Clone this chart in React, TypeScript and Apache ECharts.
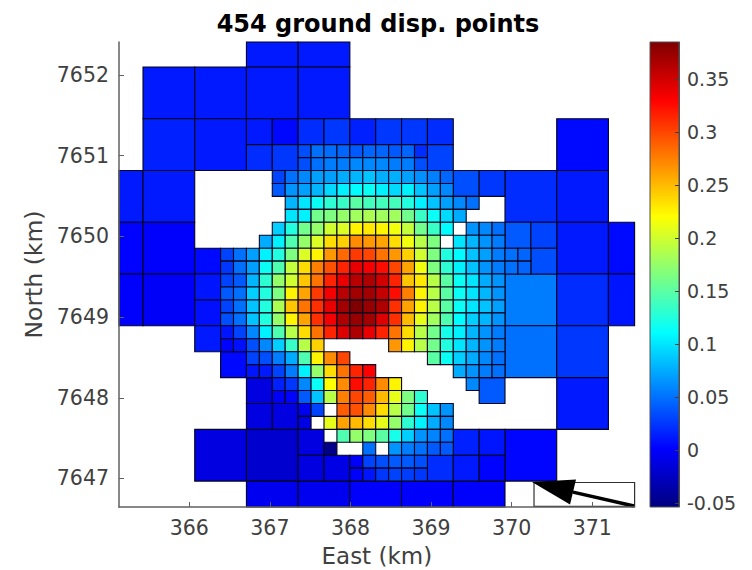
import React, { useEffect, useRef } from "react";
import * as echarts from "echarts";

const titleText = "454 ground disp. points";
const xName = "East (km)";
const yName = "North (km)";
const xTicks = [366, 367, 368, 369, 370, 371];
const yTicks = [7647, 7648, 7649, 7650, 7651, 7652];
const colorTicks = [-0.05, 0, 0.05, 0.1, 0.15, 0.2, 0.25, 0.3, 0.35];
const xRange = [365.128, 371.525];
const yRange = [7646.646, 7652.41];
const colorRange = [-0.0538, 0.385];
const jet = ["#00007f", "#0000ff", "#007fff", "#00ffff", "#7fff7f", "#ffff00", "#ff7f00", "#ff0000", "#7f0000"];

// patch lattice of the quadtree, km
const originEast = 365.4258;
const originNorth = 7652.0999;
const patchStep = 0.1604;

// [col, row, span, displacement]
const coarsePatches: number[][] = [
  [8, -4, 4, 0.012], [12, -4, 4, 0.012],
  [0, 0, 4, 0.012], [4, 0, 4, 0.012], [8, 0, 4, 0.012], [12, 0, 4, 0.012],
  [0, 4, 4, 0.015], [4, 4, 4, 0.012], [32, 4, 4, 0.005],
  [-4, 8, 4, 0.012], [0, 8, 4, 0.012], [28, 8, 4, 0.02], [32, 8, 4, 0.012],
  [-4, 12, 4, 0.002], [0, 12, 4, 0.0], [32, 12, 4, 0.012], [36, 12, 4, 0.005],
  [-4, 16, 4, 0.0], [0, 16, 4, -0.002], [28, 16, 4, 0.055], [32, 16, 4, 0.02], [36, 16, 4, 0.01],
  [28, 20, 4, 0.05], [32, 20, 4, 0.025], [32, 24, 4, 0.012],
  [4, 28, 4, -0.012], [8, 28, 4, -0.02], [28, 28, 4, 0.003],
  [8, 32, 4, -0.005], [12, 32, 4, -0.005], [16, 32, 4, 0.0], [20, 32, 4, 0.0], [24, 32, 4, 0.0],
];
const mediumPatches: number[][] = [
  [8, 4, 2, 0.012], [10, 4, 2, 0.004], [12, 4, 2, 0.02], [14, 4, 2, 0.025], [16, 4, 2, 0.015],
  [18, 4, 2, 0.025], [20, 4, 2, 0.025], [22, 4, 2, 0.02],
  [8, 6, 2, 0.02], [10, 6, 2, 0.025], [22, 6, 2, 0.03],
  [24, 8, 2, 0.035], [26, 8, 2, 0.025],
  [28, 12, 2, 0.04], [30, 12, 2, 0.03], [4, 14, 2, 0.005], [30, 14, 2, 0.035],
  [4, 16, 2, 0.01], [4, 18, 2, 0.008], [4, 20, 2, 0.012], [6, 22, 2, 0.005],
  [8, 24, 2, -0.012], [26, 24, 2, 0.04], [8, 26, 2, -0.012], [10, 26, 2, -0.012],
  [12, 28, 2, -0.012], [24, 28, 2, 0.015], [26, 28, 2, 0.01],
  [12, 30, 2, -0.012], [14, 30, 2, -0.01], [22, 30, 2, 0.02], [24, 30, 2, 0.012], [26, 30, 2, 0.002],
];
// [row, first col, values] ; null = patch removed
const fineRows: [number, number, (number | null)[]][] = [
  [6, 12, [0.035, 0.05, 0.048, 0.045, 0.04, 0.045, 0.045, 0.04, 0.045, 0.02]],
  [7, 12, [0.035, 0.05, 0.055, 0.055, 0.06, 0.06, 0.06, 0.055, 0.055, 0.035]],
  [8, 10, [0.03, 0.05, 0.06, 0.07, 0.07, 0.075, 0.08, 0.085, 0.077, 0.077, 0.07, 0.063, 0.056, 0.045]],
  [9, 10, [0.04, 0.065, 0.07, 0.08, 0.095, 0.105, 0.11, 0.115, 0.105, 0.095, 0.105, 0.085, 0.07, 0.06]],
  [10, 11, [0.08, 0.1, 0.115, 0.13, 0.135, 0.15, 0.14, 0.14, 0.14, 0.125, 0.105, 0.085, 0.07, 0.06, 0.05]],
  [11, 11, [0.1, 0.105, 0.16, 0.165, 0.175, 0.18, 0.185, 0.18, 0.18, 0.16, 0.135, 0.115, 0.095, 0.075]],
  [12, 10, [0.09, 0.125, 0.16, 0.175, 0.2, 0.205, 0.225, 0.23, 0.225, 0.215, 0.195, 0.16, 0.135, 0.11, null, 0.065, 0.06, 0.05]],
  [13, 9, [0.075, 0.105, 0.145, 0.175, 0.205, 0.235, 0.24, 0.27, 0.265, 0.26, 0.235, 0.215, 0.19, 0.165, null, 0.1, 0.08, 0.065, 0.055]],
  [14, 6, [0.03, 0.05, 0.07, 0.105, 0.125, 0.165, 0.205, 0.225, 0.265, 0.285, 0.305, 0.3, 0.28, 0.265, 0.24, 0.2, 0.165, 0.125, 0.11, 0.085, 0.07, 0.055, 0.05, 0.045]],
  [15, 6, [0.025, 0.05, 0.07, 0.115, 0.145, 0.195, 0.235, 0.275, 0.295, 0.315, 0.34, 0.335, 0.325, 0.3, 0.26, 0.215, 0.165, 0.13, 0.105, 0.085, 0.065, 0.055, 0.05, 0.045]],
  [16, 6, [0.03, 0.04, 0.08, 0.13, 0.175, 0.2, 0.245, 0.28, 0.315, 0.34, 0.36, 0.365, 0.35, 0.315, 0.245, 0.23, 0.19, 0.15, 0.115, 0.1, 0.075, 0.065]],
  [17, 6, [0.04, 0.05, 0.09, 0.125, 0.165, 0.225, 0.26, 0.305, 0.335, 0.36, 0.37, 0.37, 0.355, 0.325, 0.275, 0.225, 0.19, 0.15, 0.115, 0.1, 0.08, 0.065]],
  [18, 6, [0.03, 0.05, 0.085, 0.125, 0.185, 0.245, 0.28, 0.31, 0.34, 0.37, 0.385, 0.375, 0.365, 0.31, 0.26, 0.225, 0.19, 0.15, 0.115, 0.1, 0.085, 0.07]],
  [19, 6, [0.035, 0.05, 0.085, 0.125, 0.175, 0.225, 0.26, 0.31, 0.335, 0.365, 0.375, 0.37, 0.345, 0.31, 0.25, 0.21, 0.18, 0.145, 0.11, 0.09, 0.08, 0.065]],
  [20, 6, [0.01, 0.03, 0.06, 0.105, 0.145, 0.19, 0.235, 0.28, 0.315, 0.345, 0.365, 0.34, 0.315, 0.28, 0.235, 0.19, 0.16, 0.12, 0.105, 0.08, 0.065, 0.055]],
  [21, 6, [0.002, 0.008, 0.035, 0.06, 0.09, 0.135, 0.19, 0.24]],
  [21, 19, [0.265, 0.225, 0.19, 0.16, 0.125, 0.1, 0.08, 0.065, 0.055]],
  [22, 8, [0.03, 0.035, 0.055, 0.075, 0.145, 0.225, 0.27, 0.3]],
  [22, 22, [0.15, 0.115, 0.09, 0.075, 0.06, 0.05]],
  [23, 8, [0.01, 0.012, 0.03, 0.055, 0.105, 0.175, 0.235, 0.28, 0.315, 0.33]],
  [23, 24, [0.075, 0.065, 0.055, 0.05]],
  [24, 10, [0.015, 0.025, 0.06, 0.115, 0.22, 0.27, 0.325, 0.315, 0.27, 0.225]],
  [24, 25, [0.06]],
  [25, 10, [-0.002, 0.002, 0.04, 0.085, 0.19, 0.275, 0.3, 0.29, 0.25, 0.21, 0.165, 0.13]],
  [26, 12, [-0.005, 0.03, null, 0.29, 0.295, 0.27, 0.235, 0.19, 0.16, 0.115, 0.085, 0.065]],
  [27, 12, [-0.01, null, 0.21, 0.26, 0.25, 0.235, 0.21, 0.175, 0.13, 0.105, 0.075, 0.06]],
  [28, 15, [0.145, 0.175, 0.165, 0.15, 0.12, 0.09, 0.065, 0.058, 0.05]],
  [29, 14, [-0.05, null, null, 0.05, null, 0.065, 0.055, 0.05, 0.04, 0.04]],
  [30, 16, [-0.002, 0.03, 0.035, 0.04, 0.04, 0.035]],
  [31, 16, [0.0, 0.01, 0.025, 0.03, 0.028, 0.025]],
];

// reference box and displacement arrow, km
const arrowBox = [370.277, 7646.95, 371.525, 7646.653];
const arrowShaft = [[371.517, 7646.659], [370.76, 7646.83]];
const arrowHead = [[370.252, 7646.957], [370.798, 7646.988], [370.724, 7646.678]];

const patchData: number[][] = [];
const addPatch = (c: number, r: number, span: number, v: number) => {
  patchData.push([
    originEast + c * patchStep,
    originNorth - (r + span) * patchStep,
    originEast + (c + span) * patchStep,
    originNorth - r * patchStep,
    v,
  ]);
};
coarsePatches.forEach(([c, r, s, v]) => addPatch(c, r, s, v));
mediumPatches.forEach(([c, r, s, v]) => addPatch(c, r, s, v));
fineRows.forEach(([r, c0, vals]) =>
  vals.forEach((v, i) => {
    if (v !== null) addPatch(c0 + i, r, 1, v);
  })
);

const FONT = "DejaVu Sans";
const INK = "#404040";

export default function App() {
  const ref = useRef<HTMLDivElement>(null);
  useEffect(() => {
    const chart = echarts.init(ref.current!, null, { renderer: "svg" });
    const stops = jet.map((color, i) => ({ offset: i / (jet.length - 1), color }));
    chart.setOption({
      animation: false,
      backgroundColor: "#ffffff",
      title: {
        text: titleText,
        left: 373,
        top: 7,
        textAlign: "center",
        textStyle: { fontFamily: FONT, fontWeight: "bold", fontSize: 24, color: "#000000" },
      },
      grid: [
        { left: 119, top: 42, width: 515.6, height: 465, outerBoundsMode: "none" },
        { left: 650, top: 42, width: 29, height: 465, outerBoundsMode: "none" },
      ],
      xAxis: [
        {
          type: "value",
          gridIndex: 0,
          min: xRange[0],
          max: xRange[1],
          name: xName,
          nameLocation: "middle",
          nameGap: 37,
          nameTextStyle: { fontFamily: FONT, fontSize: 23, color: INK },
          axisLine: { show: true, onZero: false, lineStyle: { color: "#606060", width: 1.5 } },
          axisTick: { show: true, inside: true, length: 5, customValues: xTicks, lineStyle: { color: "#606060" } },
          axisLabel: { customValues: xTicks, formatter: (v: number) => String(v), fontFamily: FONT, fontSize: 20.5, color: INK, margin: 10 },
          splitLine: { show: false },
          z: 5,
        },
        { type: "value", gridIndex: 1, min: 0, max: 1, show: false },
      ],
      yAxis: [
        {
          type: "value",
          gridIndex: 0,
          min: yRange[0],
          max: yRange[1],
          name: yName,
          nameLocation: "middle",
          nameGap: 73,
          nameRotate: 90,
          nameTextStyle: { fontFamily: FONT, fontSize: 23.5, color: INK },
          axisLine: { show: true, onZero: false, lineStyle: { color: "#606060", width: 1.5 } },
          axisTick: { show: true, inside: true, length: 5, customValues: yTicks, lineStyle: { color: "#606060" } },
          axisLabel: { customValues: yTicks, formatter: (v: number) => String(v), fontFamily: FONT, fontSize: 20.5, color: INK, margin: 10 },
          splitLine: { show: false },
          z: 5,
        },
        {
          type: "value",
          gridIndex: 1,
          position: "right",
          min: colorRange[0],
          max: colorRange[1],
          axisLine: { show: true, onZero: false, lineStyle: { color: "#505050", width: 1 } },
          axisTick: { show: true, inside: true, length: 4, customValues: colorTicks, lineStyle: { color: "#404040" } },
          axisLabel: { customValues: colorTicks, formatter: (v: number) => String(v), fontFamily: FONT, fontSize: 19, color: INK, margin: 8 },
          splitLine: { show: false },
          z: 5,
        },
      ],
      visualMap: {
        show: false,
        seriesIndex: 0,
        dimension: 4,
        min: colorRange[0],
        max: colorRange[1],
        inRange: { color: jet },
      },
      series: [
        {
          type: "custom",
          xAxisIndex: 0,
          yAxisIndex: 0,
          data: patchData,
          encode: { x: [0, 2], y: [1, 3] },
          renderItem: (params: any, api: any) => {
            const a = api.coord([api.value(0), api.value(3)]);
            const b = api.coord([api.value(2), api.value(1)]);
            const shape = echarts.graphic.clipRectByRect(
              { x: a[0], y: a[1], width: b[0] - a[0], height: b[1] - a[1] },
              params.coordSys
            );
            if (!shape) return null;
            return {
              type: "rect",
              shape,
              style: { fill: api.visual("color"), stroke: "#050520", lineWidth: 1.1 },
            };
          },
        },
        {
          type: "custom",
          xAxisIndex: 0,
          yAxisIndex: 0,
          data: [[...arrowBox]],
          encode: { x: [0, 2], y: [1, 3] },
          z: 3,
          renderItem: (_p: any, api: any) => {
            const pt = (p: number[]) => api.coord(p);
            const a = pt([arrowBox[0], arrowBox[1]]);
            const b = pt([arrowBox[2], arrowBox[3]]);
            return {
              type: "group",
              children: [
                {
                  type: "rect",
                  shape: { x: a[0], y: a[1], width: b[0] - a[0], height: b[1] - a[1] },
                  style: { fill: "#ffffff", stroke: "#303030", lineWidth: 1.2 },
                },
                {
                  type: "line",
                  shape: { x1: pt(arrowShaft[0])[0], y1: pt(arrowShaft[0])[1], x2: pt(arrowShaft[1])[0], y2: pt(arrowShaft[1])[1] },
                  style: { stroke: "#000000", lineWidth: 3.5 },
                },
                {
                  type: "polygon",
                  shape: { points: arrowHead.map(pt) },
                  style: { fill: "#000000" },
                },
              ],
            };
          },
        },
        {
          type: "custom",
          xAxisIndex: 1,
          yAxisIndex: 1,
          data: [[0, colorRange[0], 1, colorRange[1]]],
          encode: { x: [0, 2], y: [1, 3] },
          renderItem: (_p: any, api: any) => {
            const a = api.coord([api.value(0), api.value(3)]);
            const b = api.coord([api.value(2), api.value(1)]);
            return {
              type: "rect",
              shape: { x: a[0], y: a[1], width: b[0] - a[0], height: b[1] - a[1] },
              style: {
                fill: new echarts.graphic.LinearGradient(0, 1, 0, 0, stops),
                stroke: "#505050",
                lineWidth: 1,
              },
            };
          },
        },
      ],
    });
    return () => chart.dispose();
  }, []);
  return <div ref={ref} style={{ position: "fixed", left: 0, top: 0, width: 752, height: 570 }} />;
}
